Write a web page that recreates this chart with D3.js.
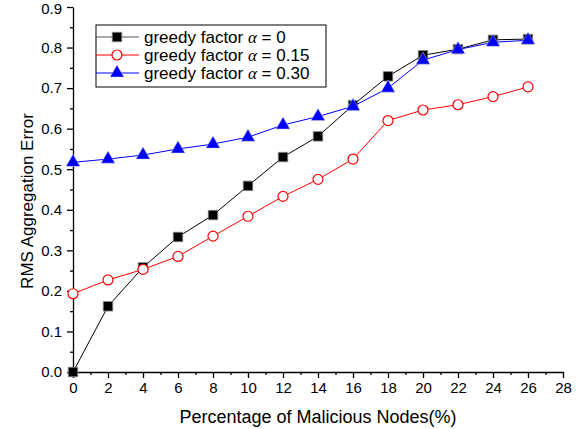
<!DOCTYPE html>
<html>
<head>
<meta charset="utf-8">
<script src="https://cdn.jsdelivr.net/npm/d3@7"></script>
<style>
  body { margin: 0; background: #fff; }
  svg { display: block; font-family: "Liberation Sans", Arial, sans-serif; }
</style>
</head>
<body>
<svg id="chart" width="585" height="429"></svg>
<script>
// data
var xValues = [0, 2, 4, 6, 8, 10, 12, 14, 16, 18, 20, 22, 24, 26];
var alpha0 = [0.0, 0.162, 0.258, 0.333, 0.387, 0.459, 0.53, 0.581, 0.658, 0.729, 0.781, 0.796, 0.819, 0.821];
var alpha015 = [0.193, 0.227, 0.253, 0.285, 0.335, 0.384, 0.433, 0.475, 0.525, 0.62, 0.646, 0.659, 0.679, 0.703];
var alpha030 = [0.517, 0.525, 0.535, 0.55, 0.562, 0.579, 0.609, 0.63, 0.655, 0.7, 0.769, 0.795, 0.813, 0.818];
var xTicks = [0, 2, 4, 6, 8, 10, 12, 14, 16, 18, 20, 22, 24, 26, 28];
var yTicks = [0.0, 0.1, 0.2, 0.3, 0.4, 0.5, 0.6, 0.7, 0.8, 0.9];
var legendLabels = ["0", "0.15", "0.30"];

var svg = d3.select("#chart");
var marge = {top: 7, left: 73, right: 22, bottom: 57};
var width = 585 - marge.left - marge.right;
var height = 429 - marge.top - marge.bottom;

var x = d3.scaleLinear().domain([0, 28]).range([0, width]);
var y = d3.scaleLinear().domain([0, 0.9]).range([height, 0]);

var g = svg.append("g")
    .attr("transform", "translate(" + marge.left + "," + marge.top + ")");

// minor ticks
var xMinor = d3.range(1, 28, 2);
var yMinor = d3.range(0.05, 0.9, 0.1);

g.append("g")
    .attr("transform", "translate(0," + height + ")")
    .call(d3.axisBottom(x).tickValues(xTicks).tickSize(6).tickSizeOuter(0).tickPadding(4));
g.append("g")
    .attr("transform", "translate(0," + height + ")")
    .call(d3.axisBottom(x).tickValues(xMinor).tickSize(3).tickFormat("").tickSizeOuter(0))
    .select(".domain").remove();

var yAxis = g.append("g")
    .call(d3.axisLeft(y).tickValues(yTicks).tickSize(6).tickSizeOuter(0).tickPadding(5)
        .tickFormat(d3.format(".1f")));
g.append("g")
    .call(d3.axisLeft(y).tickValues(yMinor).tickSize(3).tickFormat("").tickSizeOuter(0))
    .select(".domain").remove();

svg.selectAll(".tick text")
    .attr("font-size", 15)
    .attr("font-family", "Liberation Sans, Arial, sans-serif")
    .attr("fill", "#000");
// keep the top label inside the page
yAxis.selectAll(".tick text").filter(function(d) { return d === 0.9; }).attr("y", 2);
svg.selectAll(".domain, .tick line").attr("stroke", "#000").attr("stroke-width", 1.3);

// axis titles
svg.append("text")
    .attr("x", 318)
    .attr("y", 423)
    .attr("text-anchor", "middle")
    .attr("font-size", 18)
    .text("Percentage of Malicious Nodes(%)");
svg.append("text")
    .attr("transform", "translate(33,201) rotate(-90)")
    .attr("text-anchor", "middle")
    .attr("font-size", 17)
    .text("RMS Aggregation Error");

var series = [
    {values: alpha0, color: "#000", legendLine: "#555", marker: "square"},
    {values: alpha015, color: "#f00", legendLine: "#f00", marker: "circle"},
    {values: alpha030, color: "#00f", legendLine: "#00f", marker: "triangle"}
];

var line = d3.line()
    .x(function(d, i) { return x(xValues[i]); })
    .y(function(d) { return y(d); });

function drawMarker(sel, s) {
    if (s.marker === "square") {
        sel.append("path").attr("d", d3.symbol(d3.symbolSquare, 90)())
            .attr("fill", "#000").attr("stroke", "#888").attr("stroke-width", 0.8);
    } else if (s.marker === "circle") {
        sel.append("circle").attr("r", 5)
            .attr("fill", "#fff").attr("stroke", "#f00").attr("stroke-width", 1.2);
    } else {
        sel.append("path").attr("d", d3.symbol(d3.symbolTriangle, 85)())
            .attr("fill", "#00f").attr("stroke", "#ccd").attr("stroke-width", 0.5);
    }
}

series.forEach(function(s) {
    g.append("path")
        .datum(s.values)
        .attr("d", line)
        .attr("fill", "none")
        .attr("stroke", s.color)
        .attr("stroke-width", 1);
    g.append("g").selectAll("g")
        .data(s.values)
        .enter()
        .append("g")
        .attr("transform", function(d, i) { return "translate(" + x(xValues[i]) + "," + y(d) + ")"; })
        .each(function() { drawMarker(d3.select(this), s); });
});

// legend
var lg = svg.append("g").attr("transform", "translate(96,25)");
lg.append("rect")
    .attr("width", 230).attr("height", 62)
    .attr("fill", "#fff").attr("stroke", "#000").attr("stroke-width", 1);
series.forEach(function(s, i) {
    var ly = 12 + i * 18;
    lg.append("line")
        .attr("x1", 0).attr("x2", 43).attr("y1", ly).attr("y2", ly)
        .attr("stroke", s.legendLine).attr("stroke-width", 1.2);
    var m = lg.append("g").attr("transform", "translate(21," + ly + ")");
    drawMarker(m, s);
    var t = lg.append("text")
        .attr("x", 48).attr("y", ly + 6)
        .attr("font-size", 17);
    t.append("tspan").text("greedy factor ");
    t.append("tspan").attr("font-style", "italic").attr("font-family", "Liberation Serif, serif").text("α");
    t.append("tspan").text(" = " + legendLabels[i]);
});
</script>
</body>
</html>
